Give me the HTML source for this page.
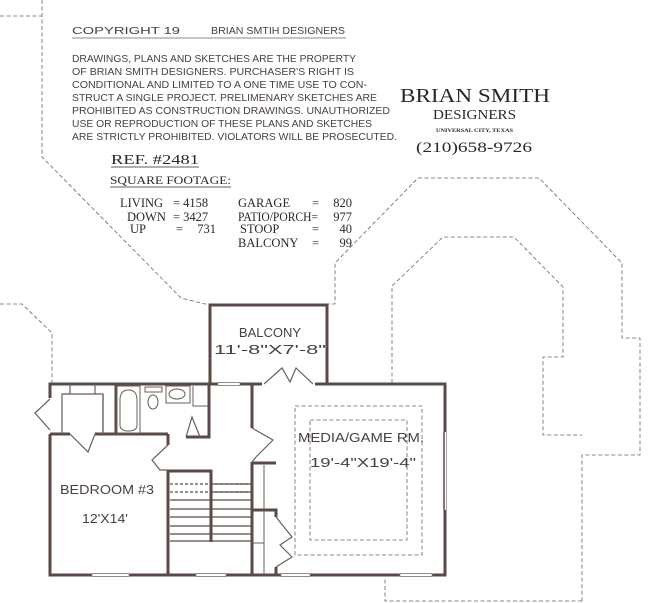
<!DOCTYPE html>
<html><head><meta charset="utf-8"><style>
html,body{margin:0;padding:0;background:#fff;}
svg{display:block;}
.s{font-family:"Liberation Sans",sans-serif;fill:#4a4040;}
.r{font-family:"Liberation Serif",serif;fill:#2e2626;}
.d{fill:none;stroke:#6a6262;stroke-width:0.8;stroke-dasharray:4 2.5;}
.w{fill:none;stroke:#5a4a46;stroke-width:3;}
.t{fill:none;stroke:#6a5e5a;stroke-width:1.2;}
.tr{stroke:#5a4a46;stroke-width:1.2;}
</style></head><body>
<svg width="650" height="603" viewBox="0 0 650 603" xmlns="http://www.w3.org/2000/svg">
<rect width="650" height="603" fill="#fff"/>
<!-- dashed outlines -->
<polyline class="d" points="0,16 42,16"/>
<polyline class="d" points="42,0 42,157 181,298 205,304 335,304 335,263 418,178 539,178 622,263 622,338 640,338 640,455 582,455 582,603"/>
<polyline class="d" points="582,601 385,601 385,578"/>
<polyline class="d" points="392,383 392,286 443,237 514,237 563,287 563,357 543,357 543,435 582,435"/>
<polyline class="d" points="0,304 22,304 52,333 52,383"/>
<rect class="d" x="295" y="406" width="127" height="149"/>
<rect class="d" x="310" y="420" width="97" height="120"/>
<!-- text block -->
<text class="s" x="72" y="34" font-size="10" textLength="108" lengthAdjust="spacingAndGlyphs">COPYRIGHT 19</text>
<text class="s" x="211" y="34" font-size="10" textLength="134" lengthAdjust="spacingAndGlyphs">BRIAN  SMTIH DESIGNERS</text>
<line x1="72" y1="38" x2="346" y2="38" stroke="#6a6262" stroke-width="0.8"/>
<g class="s" font-size="10.5">
<text x="72" y="62" textLength="284" lengthAdjust="spacingAndGlyphs">DRAWINGS, PLANS AND SKETCHES ARE THE PROPERTY</text>
<text x="72" y="75" textLength="282" lengthAdjust="spacingAndGlyphs">OF BRIAN SMITH DESIGNERS.  PURCHASER'S RIGHT IS</text>
<text x="72" y="88" textLength="295" lengthAdjust="spacingAndGlyphs">CONDITIONAL AND LIMITED TO A ONE TIME USE TO CON-</text>
<text x="72" y="101" textLength="305" lengthAdjust="spacingAndGlyphs">STRUCT A SINGLE PROJECT.  PRELIMENARY SKETCHES ARE</text>
<text x="72" y="114" textLength="318" lengthAdjust="spacingAndGlyphs">PROHIBITED AS CONSTRUCTION DRAWINGS.  UNAUTHORIZED</text>
<text x="72" y="127" textLength="300" lengthAdjust="spacingAndGlyphs">USE OR REPRODUCTION OF THESE PLANS AND SKETCHES</text>
<text x="72" y="140" textLength="325" lengthAdjust="spacingAndGlyphs">ARE STRICTLY PROHIBITED.  VIOLATORS WILL BE PROSECUTED.</text>
</g>
<text class="r" x="400" y="102" font-size="20" textLength="150" lengthAdjust="spacingAndGlyphs">BRIAN  SMITH</text>
<text class="r" x="433" y="119" font-size="14" textLength="83" lengthAdjust="spacingAndGlyphs">DESIGNERS</text>
<text class="r" x="436" y="132" font-size="5" font-weight="bold" textLength="77" lengthAdjust="spacingAndGlyphs">UNIVERSAL CITY, TEXAS</text>
<text class="r" x="416" y="152" font-size="15" textLength="116" lengthAdjust="spacingAndGlyphs">(210)658-9726</text>
<text class="r" x="111" y="164" font-size="14" textLength="88" lengthAdjust="spacingAndGlyphs">REF.  #2481</text>
<line x1="111" y1="167" x2="199" y2="167" stroke="#2e2626" stroke-width="0.8"/>
<text class="r" x="110" y="184" font-size="11.5" textLength="121" lengthAdjust="spacingAndGlyphs">SQUARE  FOOTAGE:</text>
<line x1="110" y1="187" x2="231" y2="187" stroke="#2e2626" stroke-width="0.8"/>
<g class="r" font-size="12.5">
<text x="120" y="207">LIVING</text><text x="173" y="207">= 4158</text>
<text x="127" y="221">DOWN</text><text x="173" y="221">= 3427</text>
<text x="130" y="233">UP</text><text x="176" y="233">=</text><text x="216" y="233" text-anchor="end">731</text>
<text x="238" y="207">GARAGE</text><text x="312" y="207">=</text><text x="352" y="207" text-anchor="end">820</text>
<text x="238" y="221" textLength="80" lengthAdjust="spacingAndGlyphs">PATIO/PORCH=</text><text x="352" y="221" text-anchor="end">977</text>
<text x="240" y="233">STOOP</text><text x="312" y="233">=</text><text x="352" y="233" text-anchor="end">40</text>
<text x="238" y="247">BALCONY</text><text x="312" y="247">=</text><text x="352" y="247" text-anchor="end">99</text>
</g>
<!-- walls -->
<polyline class="w" points="210,384 210,305 327,305 327,384"/>
<polyline class="w" points="50,398 50,384 262,384"/>
<polyline class="w" points="315,384 445,384 445,575 50,575 50,434"/>
<!-- windows (light gaps) -->
<g stroke="#fff" stroke-width="2">
<line x1="92" y1="575" x2="129" y2="575"/><line x1="196" y1="575" x2="226" y2="575"/>
<line x1="281" y1="575" x2="310" y2="575"/><line x1="400" y1="575" x2="432" y2="575"/>
<line x1="218" y1="384" x2="240" y2="384"/><line x1="445" y1="432" x2="445" y2="510"/>
</g>
<g stroke="#8a7e7a" stroke-width="0.7">
<rect x="92" y="573.5" width="37" height="3" fill="none"/><rect x="196" y="573.5" width="30" height="3" fill="none"/>
<rect x="281" y="573.5" width="29" height="3" fill="none"/><rect x="400" y="573.5" width="32" height="3" fill="none"/>
<rect x="218" y="382.5" width="22" height="3" fill="none"/><line x1="444" y1="432" x2="444" y2="510" stroke="#5a4a46" stroke-width="1.5"/>
</g>
<!-- balcony doors -->
<polyline class="t" points="264,384 282,368 290,382 296,368 313,384"/>
<!-- interior walls -->
<polyline class="w" points="50,434 70,434"/>
<polyline class="w" points="95,434 168,434"/>
<polyline class="w" points="116,384 116,434"/>
<polyline class="w" points="209,384 209,437 186,437"/>
<polyline class="w" points="168,434 168,445"/>
<polyline class="w" points="168,470 168,575"/>
<polyline class="w" points="252,384 252,428"/>
<polyline class="w" points="252,462 252,575"/>
<polyline class="w" points="168,471 211,471 211,542"/>
<polyline class="w" points="252,463 276,463"/>
<polyline class="w" points="252,510 276,510 276,517"/>
<polyline class="w" points="276,567 276,575"/>
<!-- door swings -->
<polyline class="t" points="50,399 35,413 50,430"/>
<polyline class="t" points="70,434 88,452 95,434"/>
<polyline class="t" points="186,437 192,417 200,437"/>
<polyline class="t" points="168,445 152,460 160,470 168,470"/>
<polyline class="t" points="252,428 273,440 256,457 252,462"/>
<polyline class="t" points="276,517 292,537 280,545 292,557 276,567"/>
<!-- closet -->
<g class="t" stroke-width="1">
<polyline points="62,434 62,394 103,394 103,434"/>
<line x1="70" y1="384" x2="70" y2="394"/><line x1="95" y1="384" x2="95" y2="394"/>
<line x1="103" y1="394" x2="103" y2="434"/>
</g>
<!-- bath -->
<g fill="none" stroke="#6a5e5a" stroke-width="1">
<rect x="117" y="386" width="23" height="47"/>
<path d="M120,400 Q120,390 128.5,390 Q137,390 137,400 L137,425 Q137,431 128.5,431 Q120,431 120,425 Z"/>
<rect x="145" y="387" width="17" height="5"/>
<ellipse cx="153" cy="402" rx="5" ry="7"/>
<rect x="166" y="386" width="24" height="17"/>
<ellipse cx="177" cy="394" rx="8" ry="5"/>
<polyline points="193,386 193,406 209,406"/>
<line x1="264" y1="465" x2="264" y2="575"/>
<line x1="252" y1="543" x2="264" y2="543"/>
</g>
<!-- stairs -->
<g class="tr">
<line x1="170" y1="484" x2="252" y2="484" stroke-dasharray="3 2"/>
<line x1="170" y1="492" x2="252" y2="492" stroke-dasharray="3 2"/>
<line x1="211" y1="484" x2="252" y2="484"/><line x1="211" y1="492" x2="252" y2="492"/>
<line x1="170" y1="500" x2="252" y2="500"/><line x1="170" y1="509" x2="252" y2="509"/>
<line x1="170" y1="517" x2="252" y2="517"/><line x1="170" y1="526" x2="252" y2="526"/>
<line x1="170" y1="534" x2="252" y2="534"/><line x1="170" y1="541" x2="252" y2="541"/>
</g>
<!-- room labels -->
<g class="s" font-size="13" fill="#3e3434">
<text x="270" y="337" text-anchor="middle">BALCONY</text>
<text x="270" y="354" text-anchor="middle" textLength="112" lengthAdjust="spacingAndGlyphs">11'-8"X7'-8"</text>
<text x="298" y="442" textLength="126" lengthAdjust="spacingAndGlyphs">MEDIA/GAME RM.</text>
<text x="310" y="467" textLength="106" lengthAdjust="spacingAndGlyphs">19'-4"X19'-4"</text>
<text x="60" y="494" textLength="94" lengthAdjust="spacingAndGlyphs">BEDROOM #3</text>
<text x="82" y="523" textLength="46" lengthAdjust="spacingAndGlyphs">12'X14'</text>
</g>
</svg>
</body></html>
